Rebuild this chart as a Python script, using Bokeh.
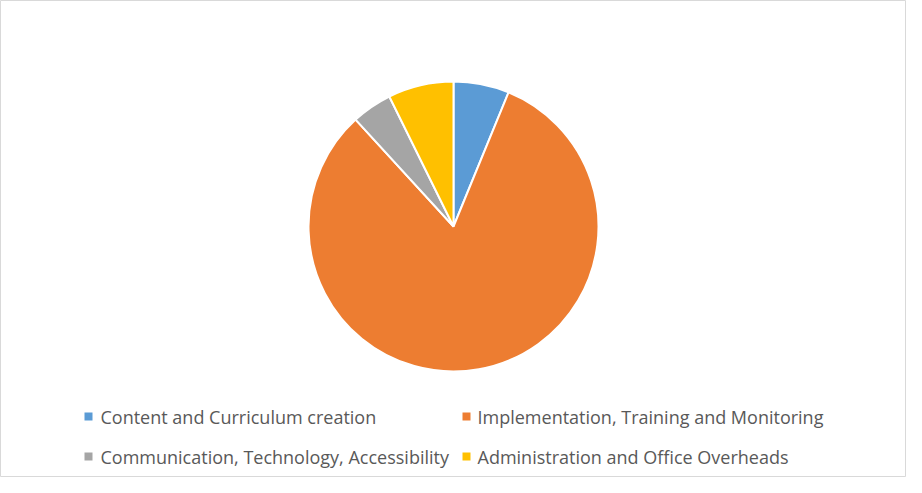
import math
from bokeh.plotting import figure
from bokeh.models import ColumnDataSource, Range1d
from bokeh.core.properties import value
from bokeh.embed import file_html
from bokeh.resources import INLINE

categories = ["Content and Curriculum creation",
              "Implementation, Training and Monitoring",
              "Communication, Technology, Accessibility",
              "Administration and Office Overheads"]
shares = [6.2, 82.0, 4.5, 7.3]
colors = ["#5B9BD5", "#ED7D31", "#A5A5A5", "#FFC000"]

W, H = 906, 477
p = figure(width=W, height=H, output_backend="svg", toolbar_location=None,
           x_range=Range1d(0, W), y_range=Range1d(0, H), min_border=0)
p.axis.visible = False
p.grid.visible = False
p.outline_line_color = "#d9d9d9"
p.outline_line_width = 1
p.background_fill_color = "white"

total = sum(shares)
starts, ends = [], []
cum = 0.0
for s in shares:
    starts.append(math.pi / 2 - cum / total * 2 * math.pi)
    cum += s
    ends.append(math.pi / 2 - cum / total * 2 * math.pi)

cx, cy, r = 453, 251, 145
src = ColumnDataSource(dict(start=starts, end=ends, color=colors, cat=categories))
p.wedge(x=cx, y=cy, radius=r, start_angle="start", end_angle="end", direction="clock",
        fill_color="color", line_color="white", line_width=2, source=src)

# legend
lx_sq = [88, 466, 88, 466]
ly = [61, 61, 21, 21]
lx_tx = [100, 477, 100, 477]
p.scatter(x=lx_sq, y=ly, marker="square", size=8, fill_color=colors, line_color=None)
p.text(x=lx_tx, y=ly, text=categories, text_baseline="middle", text_align="left",
       text_font=value("Open Sans"), text_font_size="18px", text_color="#595959")

open("out.html", "w").write(file_html(p, INLINE))
